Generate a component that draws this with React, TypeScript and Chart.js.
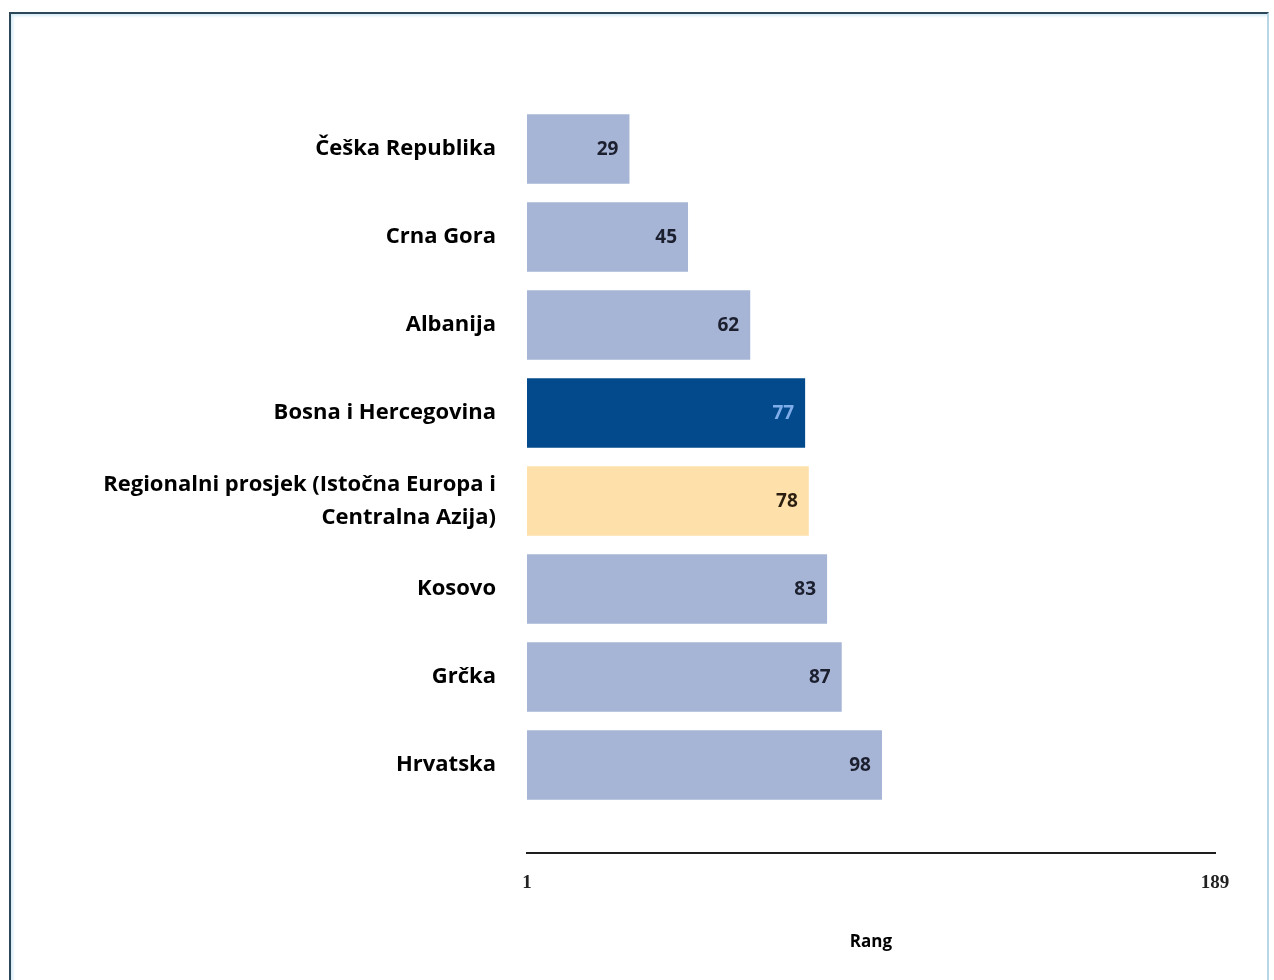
import React, { useEffect, useRef } from "react";
import { Chart, registerables } from "chart.js";

Chart.register(...registerables);

const categories: (string | string[])[] = [
  "Češka Republika",
  "Crna Gora",
  "Albanija",
  "Bosna i Hercegovina",
  ["Regionalni prosjek (Istočna Europa i", "Centralna Azija)"],
  "Kosovo",
  "Grčka",
  "Hrvatska",
];
const ranks = [29, 45, 62, 77, 78, 83, 87, 98];
const barColors = ["#a6b4d6", "#a6b4d6", "#a6b4d6", "#034a8c", "#fde0aa", "#a6b4d6", "#a6b4d6", "#a6b4d6"];
const valueLabelColors = ["#1b1f2e", "#1b1f2e", "#1b1f2e", "#7fadea", "#2a1e10", "#1b1f2e", "#1b1f2e", "#1b1f2e"];
const xTicks = [1, 189];
const xTitle = "Rang";

const valueLabelPlugin = {
  id: "valueLabels",
  afterDatasetsDraw(chart: any) {
    const ctx = chart.ctx;
    const meta = chart.getDatasetMeta(0);
    ctx.save();
    ctx.font = "bold 19px 'Open Sans'";
    ctx.textAlign = "right";
    ctx.textBaseline = "middle";
    meta.data.forEach((bar: any, i: number) => {
      ctx.fillStyle = valueLabelColors[i];
      ctx.fillText(String(ranks[i]), bar.x - 11, bar.y + 1);
    });
    ctx.restore();
  },
};

export default function App() {
  const ref = useRef<HTMLCanvasElement>(null);
  useEffect(() => {
    if (!ref.current) return;
    const chart = new Chart(ref.current, {
      type: "bar",
      data: {
        datasets: [
          {
            data: ranks.map((v, i) => ({ x: v, y: i })) as any,
            backgroundColor: barColors,
            base: 1,
            barPercentage: 0.79,
            categoryPercentage: 1,
            borderWidth: 0,
          } as any,
        ],
      },
      plugins: [valueLabelPlugin],
      options: {
        indexAxis: "y",
        animation: false,
        responsive: false,
        events: [],
        layout: { padding: { top: 105, right: 59, left: 0, bottom: 0 } },
        plugins: { legend: { display: false }, tooltip: { enabled: false } },
        scales: {
          y: {
            type: "linear",
            reverse: true,
            offset: false,
            min: -0.5,
            max: 8,
            afterBuildTicks: (scale: any) => {
              scale.ticks = categories.map((_, i) => ({ value: i }));
            },
            afterFit: (scale: any) => {
              scale.width = 527;
            },
            grid: { display: false, drawTicks: false },
            border: { display: false },
            ticks: {
              autoSkip: false,
              padding: 31,
              color: "#000",
              font: { family: "'Open Sans'", size: 22, weight: "bold", lineHeight: 1.5 },
              callback: (v: any) => categories[v as number] as any,
            },
          },
          x: {
            type: "linear",
            min: 1,
            max: 189,
            afterBuildTicks: (scale: any) => {
              scale.ticks = xTicks.map((v) => ({ value: v }));
            },
            afterFit: (scale: any) => {
              scale.height = 127;
            },
            grid: { display: false, drawTicks: false },
            border: { display: true, color: "#1e1e1e", width: 2 },
            ticks: {
              autoSkip: false,
              maxRotation: 0,
              padding: 19,
              color: "#222",
              font: { family: "'Liberation Serif'", size: 19, weight: "bold" },
            },
            title: {
              display: true,
              text: xTitle,
              color: "#000",
              font: { family: "'Open Sans'", size: 17, weight: "bold" },
              padding: { top: 0, bottom: 28 },
            },
          },
        },
      },
    });
    return () => chart.destroy();
  }, []);

  return (
    <div style={{ position: "absolute", left: 0, top: 0, width: 1274, height: 980, overflow: "hidden", background: "#fff" }}>
      <div
        style={{
          position: "absolute",
          left: 9,
          top: 12,
          width: 1260,
          height: 990,
          borderLeft: "2px solid #2c4858",
          borderTop: "2px solid #2c4858",
          borderRight: "2px solid #b9d6e6",
          boxShadow: "inset 2px 2px 3px #d6ecf7",
          boxSizing: "border-box",
        }}
      />
      <canvas ref={ref} width={1274} height={980} style={{ position: "absolute", left: 0, top: 0, width: 1274, height: 980 }} />
    </div>
  );
}
